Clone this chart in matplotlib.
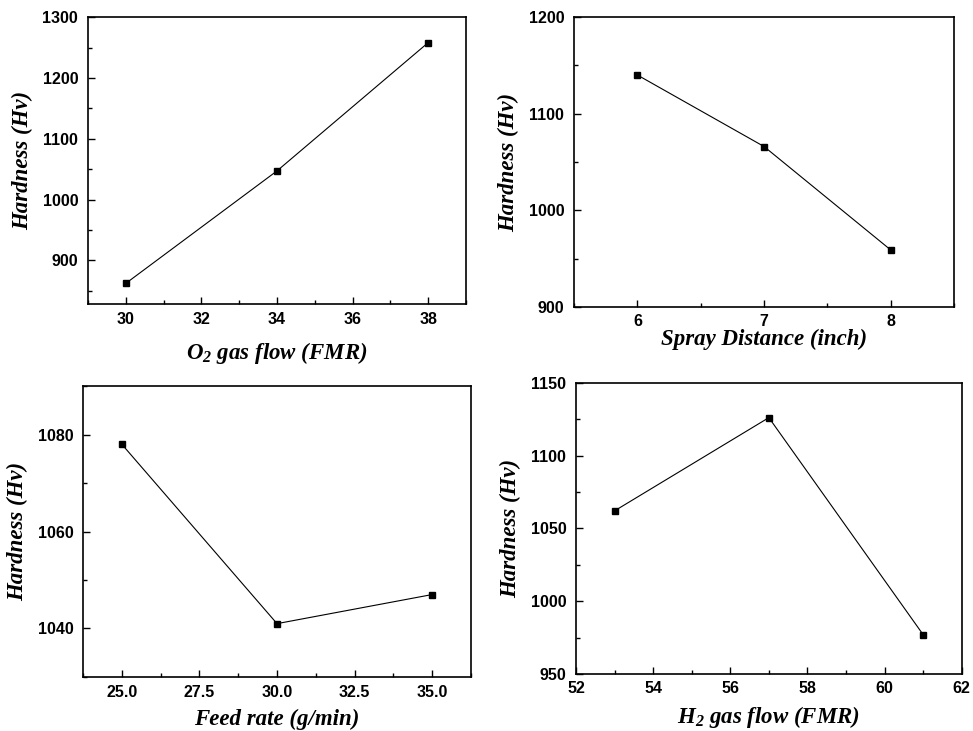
import matplotlib
matplotlib.use("Agg")
import matplotlib.pyplot as plt
from matplotlib.ticker import MultipleLocator, FormatStrFormatter

plt.rcParams['mathtext.fontset'] = 'custom'
plt.rcParams['mathtext.rm'] = 'Liberation Serif:bold:italic'
plt.rcParams['mathtext.it'] = 'Liberation Serif:bold:italic'
plt.rcParams['mathtext.bf'] = 'Liberation Serif:bold:italic'

# data
o2_flow = [30, 34, 38]
o2_hardness = [862, 1047, 1258]

spray_dist = [6, 7, 8]
spray_hardness = [1140, 1066, 959]

feed_rate = [25.0, 30.0, 35.0]
feed_hardness = [1078, 1041, 1047]

h2_flow = [53, 57, 61]
h2_hardness = [1062, 1126, 977]

label_font = dict(family='Liberation Serif', weight='bold', style='italic', size=16.5)


def panel(fig, rect, x, y, xlabel, xlim, ylim, xmaj, xmin, ymaj, ymin, xfmt=None, labelpad=4, xpad=6):
    ax = fig.add_axes(rect)
    ax.plot(x, y, color='black', lw=0.8, marker='s', ms=5, mfc='black', mec='black')
    ax.set_xlim(*xlim)
    ax.set_ylim(*ylim)
    ax.xaxis.set_major_locator(MultipleLocator(xmaj))
    ax.xaxis.set_minor_locator(MultipleLocator(xmin))
    ax.yaxis.set_major_locator(MultipleLocator(ymaj))
    ax.yaxis.set_minor_locator(MultipleLocator(ymin))
    if xfmt:
        ax.xaxis.set_major_formatter(xfmt)
    ax.tick_params(which='both', direction='in', top=False, right=False)
    ax.tick_params(which='major', length=5, width=1)
    ax.tick_params(which='minor', length=3, width=1)
    ax.tick_params(axis='x', which='major', pad=xpad)
    ax.tick_params(axis='y', which='major', pad=7)
    for lab in ax.get_xticklabels() + ax.get_yticklabels():
        lab.set_fontfamily('Liberation Sans')
        lab.set_fontweight('bold')
        lab.set_fontsize(11.5)
    for s in ax.spines.values():
        s.set_linewidth(1.2)
    ax.set_xlabel(xlabel, fontdict=label_font, labelpad=labelpad)
    ax.set_ylabel('Hardness (Hv)', fontdict=label_font, labelpad=7)
    return ax


fig = plt.figure(figsize=(9.73, 7.31), dpi=100)

panel(fig, [0.0904, 0.584, 0.3885, 0.3926], o2_flow, o2_hardness,
      r'O$_2$ gas flow (FMR)', (29, 39), (828, 1300), 2, 1, 100, 50, labelpad=9)
panel(fig, [0.590, 0.580, 0.3906, 0.3967], spray_dist, spray_hardness,
      'Spray Distance (inch)', (5.5, 8.5), (900, 1200), 1, 0.5, 100, 50, labelpad=0, xpad=5)
panel(fig, [0.0853, 0.0739, 0.3988, 0.398], feed_rate, feed_hardness,
      'Feed rate (g/min)', (23.75, 36.25), (1030, 1090), 2.5, 1.25, 20, 10,
      xfmt=FormatStrFormatter('%.1f'), labelpad=6)
panel(fig, [0.592, 0.078, 0.3964, 0.3985], h2_flow, h2_hardness,
      r'H$_2$ gas flow (FMR)', (52, 62), (950, 1150), 2, 1, 50, 25, labelpad=6, xpad=5)

fig.savefig('out.png', dpi=100)
